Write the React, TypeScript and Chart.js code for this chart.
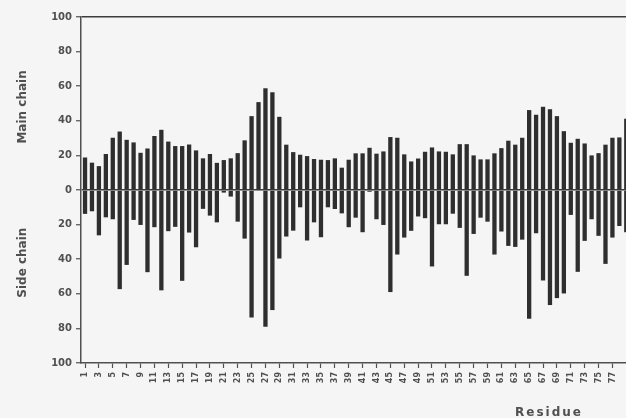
import { useEffect, useRef } from "react";
import { Chart, registerables } from "chart.js";

Chart.register(...registerables);

// Residue numbers along the sequence
const residues = [
  1, 2, 3, 4, 5, 6, 7, 8, 9, 10, 11, 12, 13, 14, 15, 16, 17, 18, 19, 20,
  21, 22, 23, 24, 25, 26, 27, 28, 29, 30, 31, 32, 33, 34, 35, 36, 37, 38, 39, 40,
  41, 42, 43, 44, 45, 46, 47, 48, 49, 50, 51, 52, 53, 54, 55, 56, 57, 58, 59, 60,
  61, 62, 63, 64, 65, 66, 67, 68, 69, 70, 71, 72, 73, 74, 75, 76, 77, 78, 79,
];

// Main-chain values (drawn upward)
const mainChain = [
  18.8, 15.8, 13.8, 20.8, 30.2, 33.8, 29.0, 27.5, 21.5, 24.0,
  31.2, 34.8, 28.0, 25.4, 25.4, 26.3, 22.9, 18.3, 20.8, 15.7,
  17.3, 18.3, 21.3, 28.7, 42.7, 50.8, 58.8, 56.5, 42.3, 26.2,
  21.9, 20.4, 19.6, 17.9, 17.5, 17.3, 18.3, 12.9, 17.5, 21.2,
  21.2, 24.4, 21.0, 22.3, 30.6, 30.2, 20.6, 16.5, 18.2, 22.1,
  24.6, 22.3, 22.1, 20.6, 26.5, 26.5, 20.0, 17.7, 17.7, 21.2,
  24.2, 28.5, 26.2, 30.2, 46.2, 43.5, 48.1, 46.7, 42.7, 34.0,
  27.3, 29.6, 26.9, 20.0, 21.3, 26.2, 30.2, 30.4, 41.2,
];

// Side-chain values (drawn downward)
const sideChain = [
  13.8, 12.3, 26.2, 15.8, 16.9, 57.3, 43.3, 17.3, 20.2, 47.5,
  21.5, 58.0, 23.8, 21.3, 52.5, 24.6, 33.1, 10.9, 14.8, 18.7,
  1.5, 3.8, 18.3, 28.1, 73.7, 0.5, 79.0, 69.4, 39.6, 26.9,
  23.5, 10.0, 29.2, 18.7, 27.3, 10.0, 11.0, 13.5, 21.5, 16.0,
  24.4, 1.0, 16.9, 20.2, 59.0, 37.3, 27.5, 23.6, 15.3, 16.3,
  44.2, 19.8, 19.8, 13.7, 21.9, 49.6, 25.4, 16.0, 18.3, 37.3,
  24.0, 32.3, 32.9, 28.7, 74.4, 25.0, 52.3, 66.5, 62.5, 59.8,
  14.4, 47.3, 29.4, 16.9, 26.5, 42.7, 27.5, 20.8, 24.4,
];

// Residue axis is labelled at odd positions (up to 77 on the visible span)
const residueTicks = residues.filter((r) => r % 2 === 1 && r <= 77);

const INK = "#2e2e2e";
const TEXT = "#505050";
const FONT = '"DejaVu Sans", "Liberation Sans", sans-serif';

// Draws the two halves' y titles and the residue title
const axisTitles = {
  id: "axisTitles",
  afterDraw(chart: any) {
    const { ctx, scales } = chart;
    const y = scales.y;
    ctx.save();
    ctx.fillStyle = TEXT;
    ctx.font = `bold 12px ${FONT}`;
    ctx.textAlign = "center";
    ctx.textBaseline = "middle";
    const vertical = (text: string, yMid: number) => {
      ctx.save();
      ctx.translate(23, yMid);
      ctx.rotate(-Math.PI / 2);
      ctx.fillText(text, 0, 0);
      ctx.restore();
    };
    vertical("Main chain", y.getPixelForValue(48));
    vertical("Side chain", y.getPixelForValue(-42));

    ctx.textAlign = "left";
    ctx.textBaseline = "alphabetic";
    (ctx as any).letterSpacing = "2px";
    ctx.fillText("Residue", 515, 415.5);
    ctx.restore();
  },
};

export default function App() {
  const canvasRef = useRef<HTMLCanvasElement | null>(null);

  useEffect(() => {
    const canvas = canvasRef.current;
    if (!canvas) return;

    const barStyle = {
      backgroundColor: INK,
      barThickness: 4.3,
      inflateAmount: 0,
      borderWidth: 0,
      grouped: false,
    };

    const chart = new Chart(canvas, {
      type: "bar",
      data: {
        datasets: [
          {
            label: "Main chain",
            data: residues.map((r, i) => ({ x: r, y: mainChain[i] })),
            ...barStyle,
          } as any,
          {
            label: "Side chain",
            data: residues.map((r, i) => ({ x: r, y: -sideChain[i] })),
            ...barStyle,
          } as any,
        ],
      },
      options: {
        responsive: false,
        animation: false,
        events: [],
        layout: { padding: { left: 0, top: 17, right: 9, bottom: 0 } },
        plugins: {
          legend: { display: false },
          tooltip: { enabled: false },
        },
        scales: {
          x: {
            type: "linear",
            min: 0.42,
            max: 84,
            offset: false,
            afterBuildTicks: (scale: any) => {
              scale.ticks = residueTicks.map((v) => ({ value: v }));
            },
            afterFit: (scale: any) => {
              scale.height = 55;
            },
            grid: {
              offset: false,
              drawOnChartArea: false,
              color: TEXT,
              tickColor: TEXT,
              tickLength: 5,
              tickWidth: 1.2,
            },
            border: { color: TEXT, width: 1.5 },
            ticks: {
              autoSkip: false,
              minRotation: 90,
              maxRotation: 90,
              padding: 4,
              color: TEXT,
              font: { family: FONT, size: 8, weight: "bold" },
              callback: (v: any) => String(v),
            },
          },
          y: {
            min: -100,
            max: 100,
            afterFit: (scale: any) => {
              scale.width = 81;
            },
            ticks: {
              stepSize: 20,
              padding: 4,
              color: TEXT,
              font: { family: FONT, size: 10, weight: "bold" },
              callback: (v: any) => String(Math.abs(Number(v))),
            },
            grid: {
              color: (c: any) =>
                c.tick && (c.tick.value === 0 || c.tick.value === 100)
                  ? "#3c3c3c"
                  : "rgba(0,0,0,0)",
              lineWidth: 1.5,
              tickColor: TEXT,
              tickLength: 5,
              tickWidth: 1.2,
            },
            border: { color: TEXT, width: 1.5 },
          },
        },
      } as any,
      plugins: [axisTitles],
    });

    return () => chart.destroy();
  }, []);

  return (
    <div
      style={{
        position: "fixed",
        left: 0,
        top: 0,
        width: 626,
        height: 418,
        overflow: "hidden",
        background: "#f5f5f5",
      }}
    >
      <canvas ref={canvasRef} width={670} height={418} style={{ display: "block" }} />
    </div>
  );
}
